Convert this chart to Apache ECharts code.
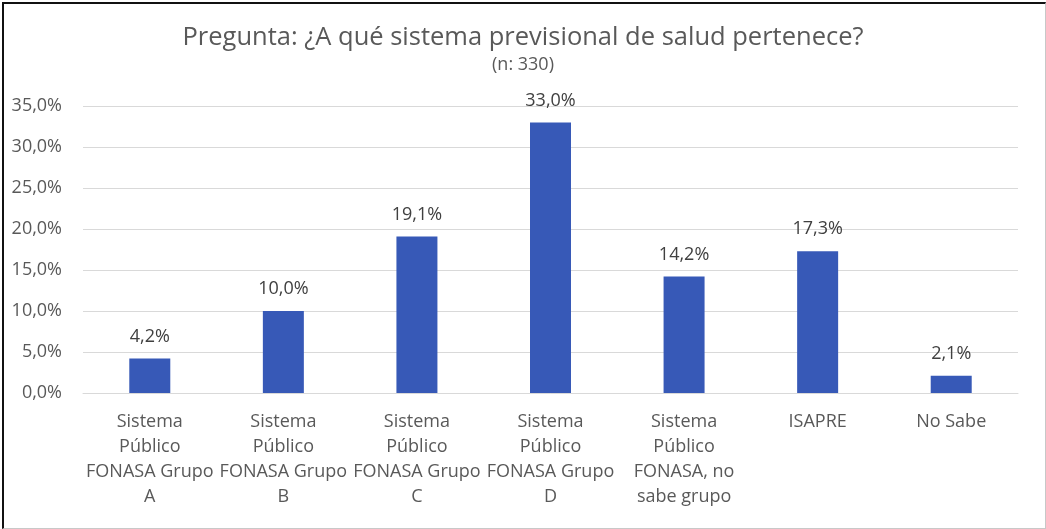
<!DOCTYPE html>
<html>
<head>
<meta charset="utf-8">
<script src="https://cdn.jsdelivr.net/npm/echarts@6/dist/echarts.min.js"></script>
<style>
  html, body { margin: 0; padding: 0; background: #fff; }
  #frame {
    position: absolute; left: 2px; top: 2px; width: 1041px; height: 524px;
    border-left: 2px solid #111; border-top: 2px solid #111;
    border-right: 1px solid #c8c8c8; border-bottom: 1px solid #c8c8c8;
  }
  #chart { position: absolute; left: -4px; top: -4px; width: 1046px; height: 529px; }
</style>
</head>
<body>
<div id="frame"><div id="chart"></div></div>
<script>
// categorias y porcentajes
const categories = [
  'Sistema\nPúblico\nFONASA Grupo\nA',
  'Sistema\nPúblico\nFONASA Grupo\nB',
  'Sistema\nPúblico\nFONASA Grupo\nC',
  'Sistema\nPúblico\nFONASA Grupo\nD',
  'Sistema\nPúblico\nFONASA, no\nsabe grupo',
  'ISAPRE',
  'No Sabe'
]
const percentages = [4.2, 10.0, 19.1, 33.0, 14.2, 17.3, 2.1]

const pct = v => v.toFixed(1).replace('.', ',') + '%'
const font = 'Open Sans, Noto Sans, sans-serif'

const chart = echarts.init(document.getElementById('chart'))
chart.setOption({
  animation: false,
  title: {
    text: 'Pregunta: ¿A qué sistema previsional de salud pertenece?',
    subtext: '(n: 330)',
    left: 'center',
    top: 20,
    itemGap: 5,
    textStyle: { fontFamily: font, fontSize: 25.5, fontWeight: 'normal', color: '#595959' },
    subtextStyle: { fontFamily: font, fontSize: 18, color: '#595959' }
  },
  grid: { left: 83, right: 28, top: 106, bottom: 136 },
  xAxis: {
    type: 'category',
    data: categories,
    axisLine: { lineStyle: { color: '#d9d9d9' } },
    axisTick: { show: false },
    axisLabel: {
      interval: 0,
      margin: 16,
      fontFamily: font, fontSize: 18, color: '#595959', lineHeight: 25
    }
  },
  yAxis: {
    type: 'value',
    min: 0, max: 35, interval: 5,
    axisLine: { show: false },
    axisTick: { show: false },
    splitLine: { lineStyle: { color: '#d9d9d9' } },
    axisLabel: {
      margin: 21,
      fontFamily: font, fontSize: 18, color: '#595959',
      formatter: v => pct(v)
    }
  },
  series: [{
    type: 'bar',
    data: percentages,
    barWidth: 41,
    itemStyle: { color: '#3759b7' },
    label: {
      show: true, position: 'top', distance: 13,
      fontFamily: font, fontSize: 18, color: '#404040',
      formatter: p => pct(p.value)
    }
  }]
})
</script>
</body>
</html>
